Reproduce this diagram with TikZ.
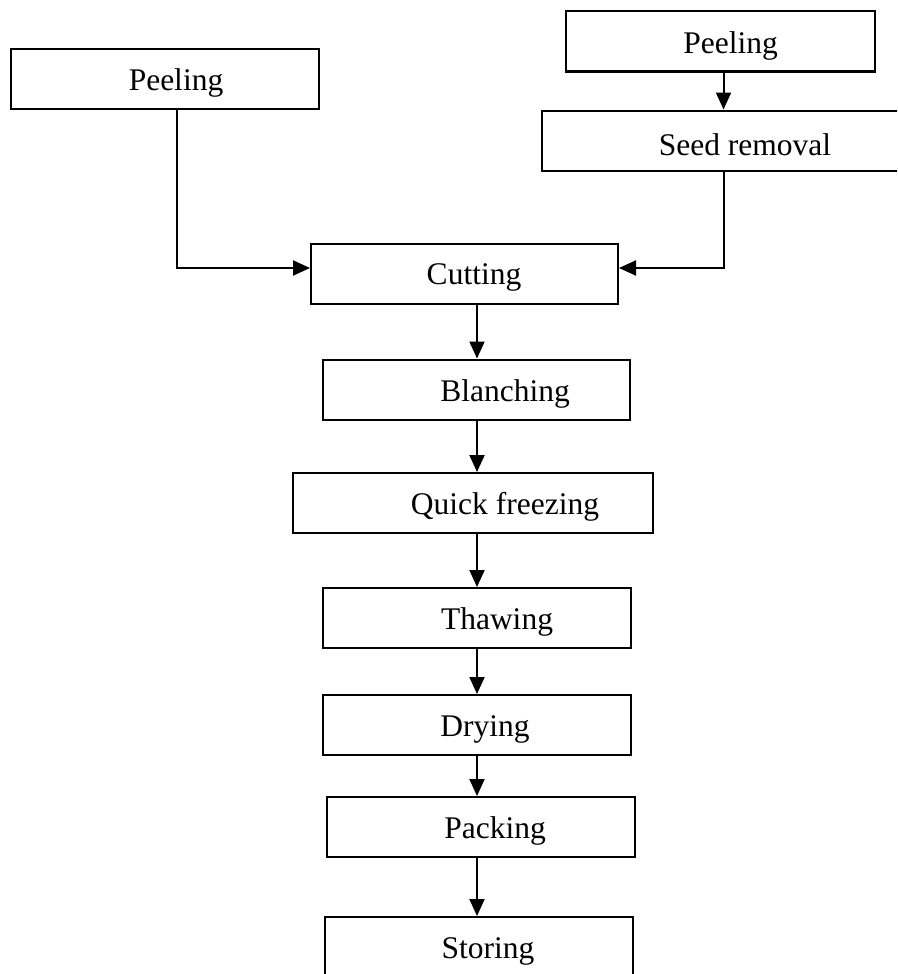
\documentclass[tikz,border=0pt]{standalone}
\usepackage{fontspec}
\setmainfont{Liberation Serif}
\usetikzlibrary{arrows.meta}
\definecolor{fcLine}{RGB}{0,0,0}
\newcommand{\stagefont}{\fontsize{31.5}{38}\selectfont}
\tikzset{
  stage/.style={draw=fcLine, line width=2pt, rectangle, minimum height=60pt, inner sep=0pt},
  stagetext/.style={font=\stagefont, inner sep=0pt, yshift=-4pt},
  flow/.style={-{Triangle[length=17pt,width=15pt]}, fcLine, line width=2pt},
  link/.style={fcLine, line width=2pt}
}

\begin{document}
\begin{tikzpicture}[x=1pt,y=-1pt]
  \useasboundingbox (0,0) rectangle (897,974);
  \clip (0,0) rectangle (897,974);

  % Spines for the connectors
  \coordinate (spine) at (477,0);
  \coordinate (lspine) at (177,0);
  \coordinate (rspine) at (723.5,0);
  \coordinate (join) at (0,268);

  % Left branch
  \node[stage, minimum width=308pt, label={[stagetext, xshift=11pt]center:Peeling}] (peelL) at (165,79) {};

  % Right branch
  \node[stage, minimum width=309pt, label={[stagetext, xshift=10pt]center:Peeling}] (peelR) at (720.5,41.5) {};
  \node[stage, minimum width=363pt, label={[stagetext, xshift=21.5pt]center:Seed removal}] (seed) at (723.5,140.5) {};

  % Main line
  \node[stage, minimum width=307pt, label={[stagetext, xshift=9.5pt]center:Cutting}] (cut) at (464.5,273.5) {};
  \node[stage, minimum width=307pt, label={[stagetext, xshift=28.5pt]center:Blanching}] (blanch) at (476.5,389.5) {};
  \node[stage, minimum width=360pt, label={[stagetext, xshift=32pt]center:Quick freezing}] (freeze) at (473,503) {};
  \node[stage, minimum width=308pt, label={[stagetext, xshift=20pt]center:Thawing}] (thaw) at (477,618) {};
  \node[stage, minimum width=308pt, label={[stagetext, xshift=8pt]center:Drying}] (dry) at (477,725) {};
  \node[stage, minimum width=308pt, label={[stagetext, xshift=14pt]center:Packing}] (pack) at (481,827) {};
  \node[stage, minimum width=308pt, label={[stagetext, xshift=9pt]center:Storing}] (store) at (479,947) {};

  % Branches into cutting
  \draw[flow] (peelL.south -| lspine) |- (cut.west |- join);
  \draw[flow] (peelR.south -| rspine) -- (seed.north -| rspine);
  \draw[flow] (seed.south -| rspine) |- (cut.east |- join);

  % Process chain
  \draw[flow] (cut.south -| spine) -- (blanch.north -| spine);
  \draw[flow] (blanch.south -| spine) -- (freeze.north -| spine);
  \draw[flow] (freeze.south -| spine) -- (thaw.north -| spine);
  \draw[flow] (thaw.south -| spine) -- (dry.north -| spine);
  \draw[flow] (dry.south -| spine) -- (pack.north -| spine);
  \draw[flow] (pack.south -| spine) -- (store.north -| spine);
\end{tikzpicture}
\end{document}
